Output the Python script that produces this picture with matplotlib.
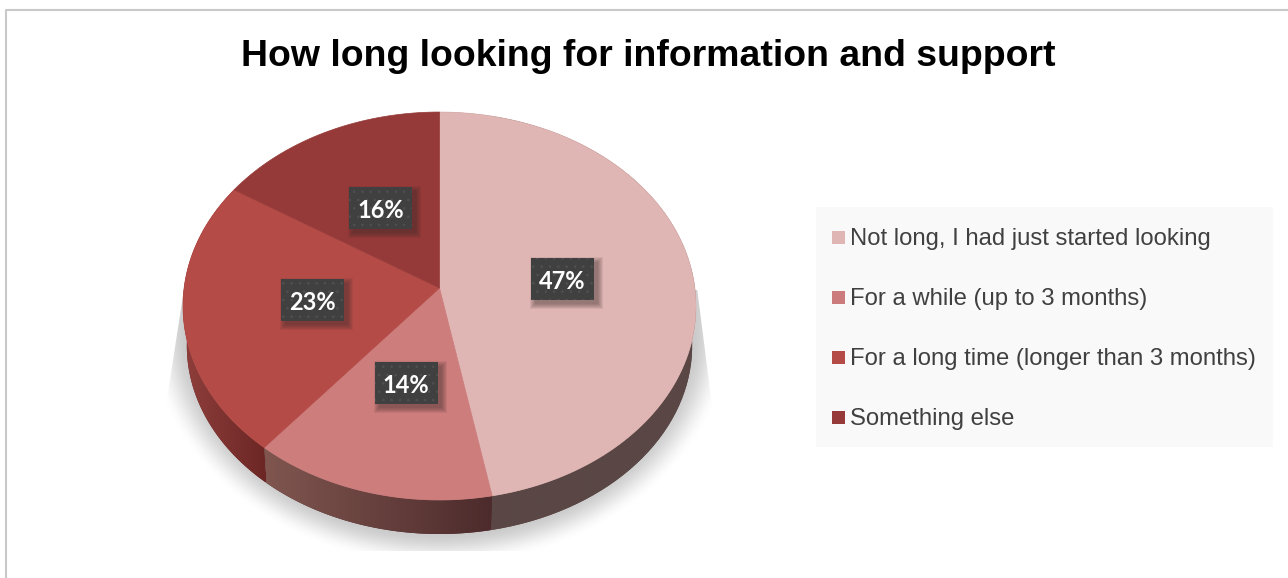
import numpy as np
import matplotlib

matplotlib.use("Agg")

import matplotlib.pyplot as plt
from matplotlib.patches import Polygon, Rectangle

TITLE = "How long looking for information and support"
CATEGORIES = [
    "Not long, I had just started looking",
    "For a while (up to 3 months)",
    "For a long time (longer than 3 months)",
    "Something else",
]
SHARES = [47, 14, 23, 16]
TOP_COLORS = ["#e0b6b4", "#cd7d7c", "#b44b47", "#953a38"]
LEGEND_COLORS = ["#e0b6b4", "#cb7b7b", "#b44b47", "#953a38"]
# side wall colours, left end then right end of the slice
SIDE_COLORS = [("#5a4745", "#5a4745"), ("#80564f", "#4d2b2c"), ("#8f3f3c", "#6c2725"), ("#6c2725", "#6c2725")]
LABEL_NUDGE = [(-3.5, 0), (0, -3), (0, -3), (0, 1)]

# pie is a tilted disc, so the far half looks smaller than the near half
CX, CY = 439.5, 288.0
RX, RY, TILT = 255.4, 192.3, 0.0928
# underside of the disc, relative to the top face
UNDER_DX, UNDER_DY, UNDER_SHIFT = 0.985, 0.97, 40.4


def project(angle, r=1.0):
    """Angle in degrees clockwise from 12 o'clock, to picture coordinates."""
    rad = np.radians(angle)
    u, v = r * np.sin(rad), r * np.cos(rad)
    w = 1 + TILT * v
    return CX + RX * u / w, CY - RY * v / w


def hex_rgb(c):
    return np.array(matplotlib.colors.to_rgb(c))


def draw_shadow(ax):
    xs, ys = np.meshgrid(np.arange(150, 730), np.arange(290, 551))
    d = np.sqrt(((xs - CX) / 292) ** 2 + ((ys - 325) / 240) ** 2)
    t = np.clip((1 - d) / 0.14, 0, 1)
    alpha = 0.38 * t * t * (3 - 2 * t)
    # straight flared edges at the upper left and right
    left = 182 - 17 * (ys - 295) / 110
    right = 698 + 14 * (ys - 295) / 110
    alpha *= np.clip(xs - left, 0, 1) * np.clip(right - xs, 0, 1)
    img = np.zeros(xs.shape + (4,))
    img[..., :3] = 0.45
    img[..., 3] = alpha
    ax.imshow(img, extent=(150, 730, 551, 290), aspect="auto", zorder=1, interpolation="bilinear")


def draw_side(ax, start, end, colors):
    angles = np.linspace(start, end, 80)
    x, y = project(angles)
    # only the part of the wall facing us is ever seen
    front = x[y > CY + 15]
    if front.size == 0:
        return
    bx = CX + UNDER_DX * (x - CX)
    by = CY + UNDER_SHIFT + UNDER_DY * (y - CY)
    pts = np.column_stack([np.r_[x, bx[::-1]], np.r_[y, by[::-1]]])
    clip = Polygon(pts, closed=True, transform=ax.transData, facecolor=colors[1], lw=0, zorder=1.5)
    ax.add_patch(clip)
    x0, x1 = front.min(), front.max()
    t = np.linspace(0, 1, 128)[None, :, None]
    img = hex_rgb(colors[0])[None, None, :] * (1 - t) + hex_rgb(colors[1])[None, None, :] * t
    im = ax.imshow(img, extent=(x0, x1, by.max() + 2, y.min() - 2), aspect="auto", zorder=2)
    im.set_clip_path(clip)


def main():
    fig = plt.figure(figsize=(12.88, 5.78), dpi=100, facecolor="white")
    ax = fig.add_axes([0, 0, 1, 1])
    ax.axis("off")

    draw_shadow(ax)

    cum = np.cumsum([0] + SHARES) / sum(SHARES) * 360

    for i in [3, 0, 2, 1]:
        draw_side(ax, cum[i], cum[i + 1], SIDE_COLORS[i])

    for i in range(len(SHARES)):
        x, y = project(np.linspace(cum[i], cum[i + 1], 120))
        ax.fill(np.r_[CX, x], np.r_[CY, y], color=TOP_COLORS[i], lw=0.5, zorder=3)

    # data labels sit half way out along each slice
    for i, share in enumerate(SHARES):
        lx, ly = project((cum[i] + cum[i + 1]) / 2, 0.5)
        lx += LABEL_NUDGE[i][0]
        ly += LABEL_NUDGE[i][1]
        w, h = 63, 42
        # soft drop shadow from a few growing rectangles
        for grow in (5, 4, 3, 2, 1, 0):
            ax.add_patch(Rectangle((lx - w / 2 + 4 - grow, ly - h / 2 + 4 - grow), w + 2 * grow, h + 2 * grow,
                                   fc="#3a2a2a", alpha=0.09, lw=0, zorder=4))
        ax.add_patch(Rectangle((lx - w / 2, ly - h / 2), w, h, fc="#404040", ec="#505050", hatch="..", lw=0, zorder=5))
        ax.text(lx, ly + 2.5, f"{share}%", color="white", fontsize=17, fontweight="bold", family="Lato",
                ha="center", va="center", zorder=6)

    ax.text(648, 56, TITLE, fontsize=26.9, fontweight="bold", family="Liberation Sans", color="black",
            ha="center", va="center")

    # frame, only top and left are in the crop
    ax.plot([6, 6, 1288], [578, 10, 10], color="#c9c9c9", lw=1.5, zorder=1)

    ax.add_patch(Rectangle((816, 207), 457, 240, fc="#f9f9f9", lw=0, zorder=1))
    for i, label in enumerate(CATEGORIES):
        ly = 237 + 60 * i
        ax.add_patch(Rectangle((832, ly - 6.5), 13, 13, fc=LEGEND_COLORS[i], lw=0, zorder=2))
        ax.text(850, ly + 1.5, label, fontsize=17.2, family="Liberation Sans", color="#404040", ha="left",
                va="center", zorder=2)

    ax.set_xlim(0, 1288)
    ax.set_ylim(578, 0)
    fig.savefig("out.png", dpi=100)
    plt.close(fig)


if __name__ == "__main__":
    plt.rcParams["hatch.linewidth"] = 0.6
    main()
